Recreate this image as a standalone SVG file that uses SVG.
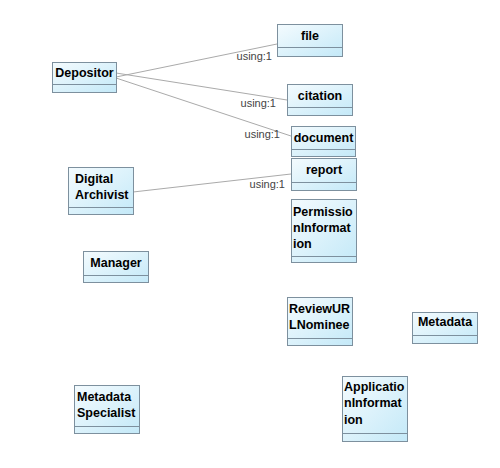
<svg xmlns="http://www.w3.org/2000/svg" width="500" height="468" viewBox="0 0 500 468">
<defs>
<linearGradient id="g" x1="0" y1="0" x2="1" y2="1">
<stop offset="0" stop-color="#f4fbfe"/>
<stop offset="1" stop-color="#c4e9f8"/>
</linearGradient>
<style>
.box{fill:url(#g);stroke:#7d909e;stroke-width:1}
.div{stroke:#7d909e;stroke-width:1}
.n{font-family:"Liberation Sans",Arial,sans-serif;font-weight:bold;font-size:12.5px;fill:#000}
.c{text-anchor:middle}
.lbl{font-family:"Liberation Sans",Arial,sans-serif;font-size:11px;fill:#444;text-anchor:end}
.e{stroke:#aaaaaa;stroke-width:1;fill:none}
</style>
</defs>
<rect width="500" height="468" fill="#fff"/>
<g id="connectors">
<line class="e" x1="116" y1="77" x2="277" y2="44"/>
<line class="e" x1="116" y1="73" x2="287" y2="100"/>
<line class="e" x1="116" y1="78" x2="291" y2="136"/>
<line class="e" x1="133" y1="192" x2="291" y2="174"/>
<text class="lbl" x="272" y="60">using:1</text>
<text class="lbl" x="276" y="107">using:1</text>
<text class="lbl" x="280" y="138">using:1</text>
<text class="lbl" x="285" y="188">using:1</text>
</g>
<g id="file"><rect class="box" x="277.5" y="24.5" width="65" height="32"/><line class="div" x1="277.5" y1="47.5" x2="342.5" y2="47.5"/><text class="n c" x="310" y="40">file</text></g>
<g id="Depositor"><rect class="box" x="52.5" y="62.5" width="64" height="30"/><line class="div" x1="52.5" y1="84.5" x2="116.5" y2="84.5"/><text class="n c" x="84.5" y="77">Depositor</text></g>
<g id="citation"><rect class="box" x="287.5" y="84.5" width="65" height="31"/><line class="div" x1="287.5" y1="107.5" x2="352.5" y2="107.5"/><text class="n c" x="320" y="100">citation</text></g>
<g id="document"><rect class="box" x="291.5" y="126.5" width="64" height="30"/><line class="div" x1="291.5" y1="149.5" x2="355.5" y2="149.5"/><text class="n c" x="323.5" y="142">document</text></g>
<g id="report"><rect class="box" x="291.5" y="158.5" width="65" height="32"/><line class="div" x1="291.5" y1="182.5" x2="356.5" y2="182.5"/><text class="n c" x="324" y="174">report</text></g>
<g id="DigitalArchivist"><rect class="box" x="68.5" y="167.5" width="65" height="47"/><line class="div" x1="68.5" y1="207.5" x2="133.5" y2="207.5"/><text class="n" x="75" y="183">Digital</text><text class="n" x="75" y="199">Archivist</text></g>
<g id="PermissionInformation"><rect class="box" x="291.5" y="199.5" width="65" height="63"/><line class="div" x1="291.5" y1="256.5" x2="356.5" y2="256.5"/><text class="n" x="293" y="216">Permissio</text><text class="n" x="293" y="232">nInformat</text><text class="n" x="293" y="248">ion</text></g>
<g id="Manager"><rect class="box" x="83.5" y="251.5" width="65" height="31"/><line class="div" x1="83.5" y1="275.5" x2="148.5" y2="275.5"/><text class="n c" x="116" y="267">Manager</text></g>
<g id="ReviewURLNominee"><rect class="box" x="287.5" y="297.5" width="65" height="48"/><line class="div" x1="287.5" y1="338.5" x2="352.5" y2="338.5"/><text class="n" x="289" y="313">ReviewUR</text><text class="n" x="289" y="329">LNominee</text></g>
<g id="Metadata"><rect class="box" x="412.5" y="312.5" width="65" height="31"/><line class="div" x1="412.5" y1="335.5" x2="477.5" y2="335.5"/><text class="n c" x="445" y="326">Metadata</text></g>
<g id="MetadataSpecialist"><rect class="box" x="74.5" y="385.5" width="65" height="48"/><line class="div" x1="74.5" y1="426.5" x2="139.5" y2="426.5"/><text class="n" x="77" y="401">Metadata</text><text class="n" x="77" y="417">Specialist</text></g>
<g id="ApplicationInformation"><rect class="box" x="342.5" y="376.5" width="65" height="65"/><line class="div" x1="342.5" y1="433.5" x2="407.5" y2="433.5"/><text class="n" x="344" y="391">Applicatio</text><text class="n" x="344" y="407">nInformat</text><text class="n" x="344" y="424">ion</text></g>
</svg>
